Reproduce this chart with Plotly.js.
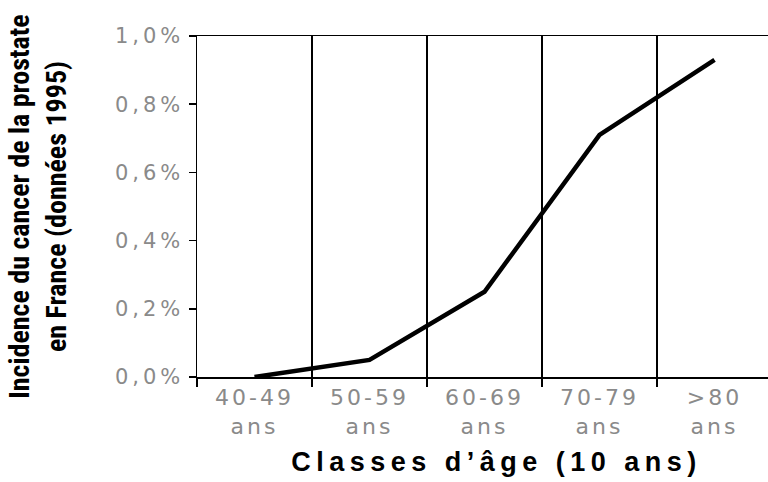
<!DOCTYPE html>
<html>
<head>
<meta charset="utf-8">
<script src="https://cdn.plot.ly/plotly-3.0.1.min.js"></script>
<style>
  html, body { margin: 0; padding: 0; background: #fff; }
  #chart { width: 768px; height: 482px; }
  .xtick text { letter-spacing: 3px; }
  .ytick text { letter-spacing: 4px; }
  .g-xtitle text { letter-spacing: 5.5px; }
  .g-xtitle { transform: translateX(14px); }
</style>
</head>
<body>
<div id="chart"></div>
<script>
// Data
const ageClasses = ["40-49<br>ans", "50-59<br>ans", "60-69<br>ans", "70-79<br>ans", ">80<br>ans"];
const incidencePct = [0.0, 0.05, 0.25, 0.71, 0.93];
const yTickVals = [0, 0.2, 0.4, 0.6, 0.8, 1.0];
const yTickLabels = ["0,0%", "0,2%", "0,4%", "0,6%", "0,8%", "1,0%"];

const trace = {
  type: "scatter",
  mode: "lines",
  x: ageClasses,
  y: incidencePct,
  line: { color: "#000", width: 4.5 },
  hoverinfo: "skip",
  showlegend: false
};

const layout = {
  width: 768,
  height: 482,
  margin: { l: 197, r: 0, t: 36, b: 105 },
  paper_bgcolor: "#fff",
  plot_bgcolor: "#fff",
  xaxis: {
    type: "category",
    range: [-0.5, 4.465],
    tickson: "boundaries",
    showgrid: true,
    gridcolor: "#000",
    gridwidth: 1.5,
    showline: true,
    linecolor: "#000",
    linewidth: 1.5,
    mirror: true,
    ticks: "outside",
    ticklen: 8,
    tickcolor: "#000",
    tickwidth: 1.5,
    tickfont: { family: "DejaVu Sans, sans-serif", size: 22, color: "#8a8a8a" },
    zeroline: false,
    title: {
      text: "Classes d’âge (10 ans)",
      font: { family: "Liberation Sans, Arial, sans-serif", size: 27, color: "#000", weight: "bold" },
      standoff: 14
    },
    fixedrange: true
  },
  yaxis: {
    range: [0, 1.0],
    tickvals: yTickVals,
    ticktext: yTickLabels,
    showgrid: false,
    zeroline: false,
    showline: true,
    linecolor: "#000",
    linewidth: 1.5,
    ticks: "outside",
    ticklen: 7,
    tickcolor: "#000",
    tickwidth: 1.5,
    tickfont: { family: "DejaVu Sans, sans-serif", size: 21, color: "#8a8a8a" },
    title: {
      text: "Incidence du cancer de la prostate<br>en France (données 1995)",
      font: { family: "Roboto Condensed, DejaVu Sans Condensed, sans-serif", size: 28, color: "#000", weight: "bold" },
      standoff: 40
    },
    fixedrange: true
  }
};

Plotly.newPlot("chart", [trace], layout, { displayModeBar: false, staticPlot: true });
</script>
</body>
</html>
